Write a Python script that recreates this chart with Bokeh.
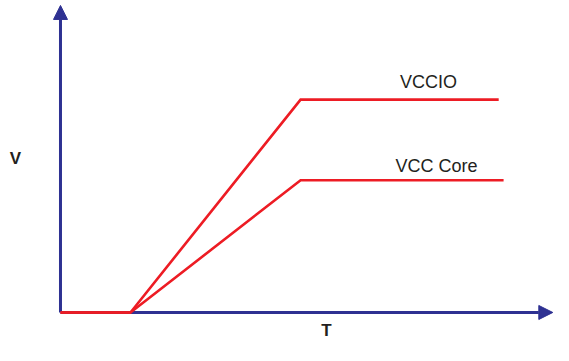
from bokeh.plotting import figure
from bokeh.models import Range1d, Arrow, NormalHead, Label
from bokeh.embed import file_html
from bokeh.resources import INLINE

# Data (arbitrary time / voltage units)
t_vccio = [0.0, 1.0, 3.43, 6.26]
v_vccio = [0.0, 0.0, 3.3, 3.3]
t_core = [0.0, 1.0, 3.43, 6.33]
v_core = [0.0, 0.0, 2.05, 2.05]
series_labels = ["VCCIO", "VCC Core"]
axis_labels = ["T", "V"]

BLUE = "#2e3192"
RED = "#ed1c24"
TEXT = "#231f20"
FONT = "Liberation Sans"

X0, X1 = -0.857, 7.043
Y0, Y1 = -0.512, 4.837

p = figure(width=553, height=345,
           x_range=Range1d(X0, X1), y_range=Range1d(Y0, Y1),
           x_axis_type=None, y_axis_type=None,
           output_backend="svg", toolbar_location=None, min_border=0)
p.grid.visible = False
p.outline_line_color = None
p.background_fill_color = "white"
p.border_fill_color = "white"

# Axes as arrows
p.add_layout(Arrow(x_start=0, y_start=0, x_end=X1 - 0.01, y_end=0,
                   line_color=BLUE, line_width=3, level="underlay",
                   end=NormalHead(size=14, fill_color=BLUE, line_color=BLUE, line_width=1)))
p.add_layout(Arrow(x_start=0, y_start=0, x_end=0, y_end=4.76,
                   line_color=BLUE, line_width=3, level="underlay",
                   end=NormalHead(size=14, fill_color=BLUE, line_color=BLUE, line_width=1)))

p.line(t_vccio, v_vccio, line_color=RED, line_width=2.6, line_join="miter")
p.line(t_core, v_core, line_color=RED, line_width=2.6, line_join="miter")

p.add_layout(Label(x=5.257, y=3.566, text=series_labels[0], text_align="center",
                   text_baseline="middle", text_font=FONT, text_font_size="18px",
                   text_color=TEXT))
p.add_layout(Label(x=5.37, y=2.264, text=series_labels[1], text_align="center",
                   text_baseline="middle", text_font=FONT, text_font_size="18px",
                   text_color=TEXT))
p.add_layout(Label(x=-0.643, y=2.39, text=axis_labels[1], text_align="center",
                   text_baseline="middle", text_font=FONT, text_font_size="17px",
                   text_font_style="bold", text_color=TEXT))
p.add_layout(Label(x=3.8, y=-0.28, text=axis_labels[0], text_align="center",
                   text_baseline="middle", text_font=FONT, text_font_size="17px",
                   text_font_style="bold", text_color=TEXT))

open("out.html", "w").write(file_html(p, INLINE))
